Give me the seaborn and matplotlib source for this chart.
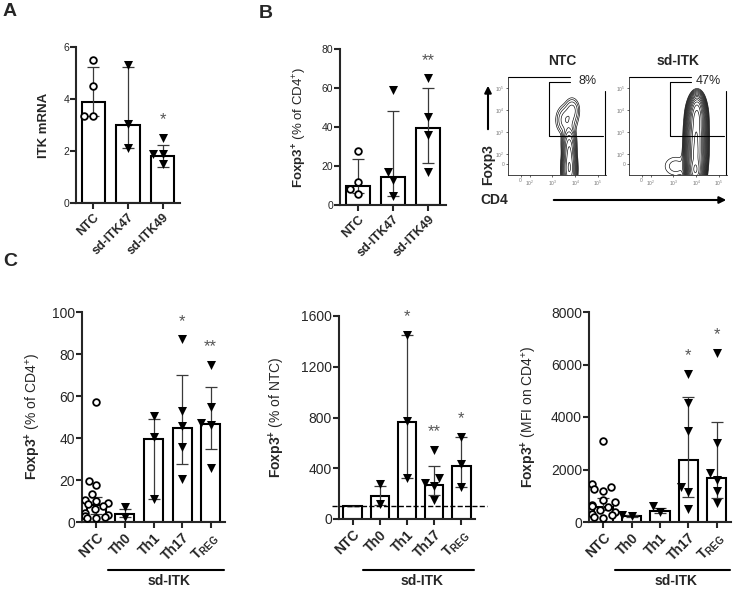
import numpy as np
import pandas as pd
import seaborn as sns
import matplotlib.pyplot as plt

sns.set_style("ticks")
plt.rcParams['font.family'] = ['Liberation Sans', 'DejaVu Sans']
plt.rcParams['mathtext.fontset'] = 'custom'
plt.rcParams['mathtext.rm'] = 'Liberation Sans'
plt.rcParams['mathtext.bf'] = 'Liberation Sans:bold'
plt.rcParams['mathtext.it'] = 'Liberation Sans:italic'

W, H = 733, 591

# ---- panel A: ITK mRNA (bar = median, error limits)
a_cats = ["NTC", "sd-ITK47", "sd-ITK49"]
a_bar = [3.9, 3.0, 1.8]
a_lo = [3.35, 2.1, 1.4]
a_hi = [5.25, 5.25, 2.25]
a_pts = {"NTC": [5.5, 4.5, 3.35, 3.35],
         "sd-ITK47": [5.3, 3.05, 2.1],
         "sd-ITK49": [2.5, 1.9, 1.9, 1.5]}
a_sig = ["", "", "*"]

# ---- panel B: Foxp3+ (% of CD4+)
b_cats = ["NTC", "sd-ITK47", "sd-ITK49"]
b_bar = [9.8, 14.5, 39.5]
b_lo = [6.0, 4.6, 21.5]
b_hi = [23.5, 48.0, 60.0]
b_pts = {"NTC": [27.7, 11.8, 8.0, 5.5],
         "sd-ITK47": [59.0, 17.0, 13.0, 4.6],
         "sd-ITK49": [65.0, 45.0, 36.0, 17.0]}
b_sig = ["", "", "**"]

# ---- panel C
c_cats = ["NTC", "Th0", "Th1", "Th17", "TREG"]
c_ticklabels = ["NTC", "Th0", "Th1", "Th17", r"$\mathbf{T}_{\mathbf{REG}}$"]

c1_bar = [8.0, 4.0, 39.5, 44.8, 46.7]
c1_lo = [4.0, 2.5, 11.0, 27.5, 35.0]
c1_hi = [12.0, 6.3, 49.0, 70.0, 64.5]
c1_pts = {"NTC": [57, 19.7, 17.5, 13.5, 10.5, 10, 9, 8.5, 7.5, 6, 4.5, 3.5, 3, 2.5, 2, 2],
          "Th0": [7.0, 2.5],
          "Th1": [50.5, 40.5, 11.0],
          "Th17": [87.0, 53.0, 45.5, 35.5, 20.5],
          "TREG": [75.0, 55.0, 46.0, 47.0, 25.5]}
c1_sig = ["", "", "", "*", "**"]

c2_bar = [100, 182, 765, 268, 417]
c2_lo = [100, 110, 320, 190, 250]
c2_hi = [100, 260, 1450, 415, 650]
c2_pts = {"Th0": [275, 115],
          "Th1": [1450, 770, 320],
          "Th17": [545, 320, 280, 260, 150],
          "TREG": [650, 430, 255]}
c2_sig = ["", "", "*", "**", "*"]

c3_bar = [580, 230, 420, 2360, 1670]
c3_lo = [450, 200, 330, 950, 900]
c3_hi = [900, 260, 520, 4750, 3800]
c3_pts = {"NTC": [3100, 1450, 1350, 1250, 1200, 850, 750, 650, 600, 560, 450, 380, 300, 250, 200, 150],
          "Th0": [250, 230],
          "Th1": [600, 380],
          "Th17": [5650, 4550, 3450, 1350, 1150, 500],
          "TREG": [6450, 3000, 1850, 1600, 1200, 720]}
c3_sig = ["", "", "", "*", "*"]

# ---- flow plots: density blobs (centre x, centre y, spread x, spread y, weight)
ntc_bx = [3.74, 3.74, 3.72, 3.62, 3.86]
ntc_by = [1.30, 2.00, 2.55, 3.55, 4.00]
ntc_sx = [0.11, 0.10, 0.12, 0.20, 0.15]
ntc_sy = [0.35, 0.40, 0.30, 0.30, 0.25]
ntc_w = [1.0, 0.6, 0.10, 0.03, 0.02]

itk_bx = [3.96, 3.98, 4.00, 4.02, 4.04, 3.10]
itk_by = [1.25, 2.00, 2.90, 3.70, 4.20, 1.45]
itk_sx = [0.15, 0.17, 0.17, 0.16, 0.13, 0.40]
itk_sy = [0.30, 0.45, 0.45, 0.35, 0.25, 0.35]
itk_w = [1.0, 0.7, 0.6, 0.45, 0.15, 0.0035]

fig = plt.figure(figsize=(7.33, 5.91), dpi=100)


def rect(x0, y0, x1, y1):
    return [x0 / W, 1 - y1 / H, (x1 - x0) / W, (y1 - y0) / H]


def bar_panel(ax, cats, labels, bars, lo, hi, pts, sig, ylim, yticks, ylabel,
              tick_fs, lab_fs, xlab_fs, label_x):
    sns.barplot(x=cats, y=bars, order=cats, color="white", edgecolor="black",
                linewidth=1.5, width=0.67, errorbar=None, ax=ax, zorder=2)
    pos = np.arange(len(cats))
    bars_a = np.array(bars, dtype=float)
    ax.errorbar(pos, bars_a, yerr=[bars_a - np.array(lo), np.array(hi) - bars_a],
                fmt="none", ecolor="#3a3a3a", elinewidth=0.9, capsize=4,
                capthick=0.9, zorder=3)
    df = pd.DataFrame([(c, v) for c in cats for v in pts.get(c, [])],
                      columns=["cat", "val"])
    circ = df[df["cat"] == "NTC"]
    tri = df[df["cat"] != "NTC"]
    if len(circ):
        sns.swarmplot(data=circ, x="cat", y="val", order=cats, marker="o",
                      color="white", edgecolor="black", linewidth=1.3, size=4.8,
                      ax=ax, zorder=4)
    if len(tri):
        sns.swarmplot(data=tri, x="cat", y="val", order=cats, marker="v",
                      color="black", size=6.5, ax=ax, zorder=4)
    for i, s in enumerate(sig):
        if s:
            top = max(pts[cats[i]])
            ax.annotate(s, (i, top), xytext=(0, 13), textcoords="offset points",
                        ha="center", va="center", color="#555555", fontsize=12)
    ax.set_xlim(-0.5, len(cats) - 0.5)
    ax.set_ylim(*ylim)
    ax.set_yticks(yticks)
    ax.set_xticks(pos)
    ax.set_xticklabels(labels, rotation=45, ha="right", rotation_mode="anchor",
                       fontweight="bold", fontsize=xlab_fs)
    ax.tick_params(axis="y", labelsize=tick_fs, width=1.5, length=4, pad=1)
    ax.tick_params(axis="x", width=1.5, length=4, pad=2)
    ax.set_xlabel("")
    ax.set_ylabel(ylabel, fontsize=lab_fs)
    ax.yaxis.set_label_coords(label_x, 0.5)
    sns.despine(ax=ax)
    for sp in ("left", "bottom"):
        ax.spines[sp].set_linewidth(1.5)
    ax.set_facecolor("none")


foxp3_pct = r"$\mathbf{Foxp3}^{\mathbf{+}}$ (% of CD4$^{+}$)"

axA = fig.add_axes(rect(76, 47, 180, 203))
bar_panel(axA, a_cats, a_cats, a_bar, a_lo, a_hi, a_pts, a_sig, (0, 6), [0, 2, 4, 6],
          "ITK mRNA", 7.5, 9.5, 9, -0.25)
axA.yaxis.label.set_fontweight("bold")

axB = fig.add_axes(rect(340, 49, 446, 205))
bar_panel(axB, b_cats, b_cats, b_bar, b_lo, b_hi, b_pts, b_sig, (0, 80), [0, 20, 40, 60, 80],
          foxp3_pct, 7.5, 9.5, 9, -0.29)

axC1 = fig.add_axes(rect(82, 312, 225, 522))
bar_panel(axC1, c_cats, c_ticklabels, c1_bar, c1_lo, c1_hi, c1_pts, c1_sig, (0, 100),
          [0, 20, 40, 60, 80, 100], foxp3_pct, 10, 10, 10, -0.27)

axC2 = fig.add_axes(rect(339, 316, 475, 519))
bar_panel(axC2, c_cats, c_ticklabels, c2_bar, c2_lo, c2_hi, c2_pts, c2_sig, (0, 1600),
          [0, 400, 800, 1200, 1600], r"$\mathbf{Foxp3}^{\mathbf{+}}$ (% of NTC)",
          10, 10, 10, -0.38)
axC2.axhline(100, xmin=-0.05, xmax=1.09, ls="--", color="black", lw=1.0,
             clip_on=False, zorder=5)

axC3 = fig.add_axes(rect(589, 312, 731, 522))
bar_panel(axC3, c_cats, c_ticklabels, c3_bar, c3_lo, c3_hi, c3_pts, c3_sig, (0, 8000),
          [0, 2000, 4000, 6000, 8000], r"$\mathbf{Foxp3}^{\mathbf{+}}$ (MFI on CD4$^{+}$)",
          10, 10, 10, -0.35)

# group bracket "sd-ITK" under panel C (line at ~570 px, text at ~582 px)
for ax, bottom_px, height_px in ((axC1, 522, 210), (axC2, 519, 203), (axC3, 522, 210)):
    tr = ax.get_xaxis_transform()
    ax.plot([0.4, 4.45], [(bottom_px - 570) / height_px] * 2, transform=tr,
            color="black", lw=1.5, clip_on=False)
    ax.text(2.55, (bottom_px - 581) / height_px, "sd-ITK", transform=tr,
            ha="center", va="center", fontweight="bold", fontsize=10)


def flow_panel(ax, bx, by, bsx, bsy, bw, nlev):
    gx = np.linspace(1.05, 5.35, 400)
    gy = np.linspace(1.05, 5.5, 400)
    X, Y = np.meshgrid(gx, gy)
    Z = np.zeros_like(X)
    for x0, y0, sx, sy, w in zip(bx, by, bsx, bsy, bw):
        Z += w * np.exp(-((X - x0) ** 2 / (2 * sx ** 2) + (Y - y0) ** 2 / (2 * sy ** 2)))
    Z /= Z.max()
    ax.contour(X, Y, Z, levels=np.geomspace(0.0015, 0.9, nlev), colors="black",
               linewidths=0.45)
    ax.set_xlim(1.05, 5.35)
    ax.set_ylim(1.05, 5.5)
    ax.set_xticks([1.6, 2, 3, 4, 5])
    ax.set_xticklabels(["0", "$10^2$", "$10^3$", "$10^4$", "$10^5$"])
    ax.set_yticks([1.55, 2, 3, 4, 5])
    ax.set_yticklabels(["0", "$10^2$", "$10^3$", "$10^4$", "$10^5$"])
    ax.tick_params(labelsize=3.5, labelcolor="#777777", width=0.5, length=1.5, pad=1)
    sns.despine(ax=ax)
    for sp in ("left", "bottom"):
        ax.spines[sp].set_linewidth(0.6)
    # gate and partial frame
    ax.plot([3.78, 2.87, 2.87, 5.22], [5.27, 5.27, 2.82, 2.82], color="black", lw=0.8)
    ax.plot([1.05, 3.78], [5.5, 5.5], color="black", lw=0.8, clip_on=False)
    ax.plot([5.3, 5.3], [1.05, 4.85], color="black", lw=0.8, clip_on=False)


axF1 = fig.add_axes(rect(508, 77, 606, 175))
flow_panel(axF1, ntc_bx, ntc_by, ntc_sx, ntc_sy, ntc_w, 10)
axF1.text(4.55, 5.3, "8%", ha="center", va="center", fontsize=9)

axF2 = fig.add_axes(rect(629, 77, 727, 175))
flow_panel(axF2, itk_bx, itk_by, itk_sx, itk_sy, itk_w, 16)
axF2.text(4.55, 5.3, "47%", ha="center", va="center", fontsize=9)

# overlay for letters, flow titles and arrows (pixel coordinates)
ov = fig.add_axes([0, 0, 1, 1], zorder=10)
ov.set_xlim(0, W)
ov.set_ylim(H, 0)
ov.axis("off")
ov.set_facecolor("none")
for letter, x, y in [("A", 3, 12), ("B", 259, 13), ("C", 3, 262)]:
    ov.text(x, y, letter, fontsize=14, fontweight="bold", ha="left", va="center")
ov.text(562, 61, "NTC", fontsize=10, fontweight="bold", ha="center", va="center")
ov.text(678, 61, "sd-ITK", fontsize=10, fontweight="bold", ha="center", va="center")
ov.text(488, 165, "Foxp3", fontsize=10, fontweight="bold", rotation=90,
        ha="center", va="center")
ov.annotate("", xy=(488, 83), xytext=(488, 132),
            arrowprops=dict(arrowstyle="-|>", lw=1.5, color="black", mutation_scale=10))
ov.text(494, 200, "CD4", fontsize=10, fontweight="bold", ha="center", va="center")
ov.annotate("", xy=(729, 200), xytext=(551, 200),
            arrowprops=dict(arrowstyle="-|>", lw=1.5, color="black", mutation_scale=10))

fig.savefig("out.png", dpi=100)
